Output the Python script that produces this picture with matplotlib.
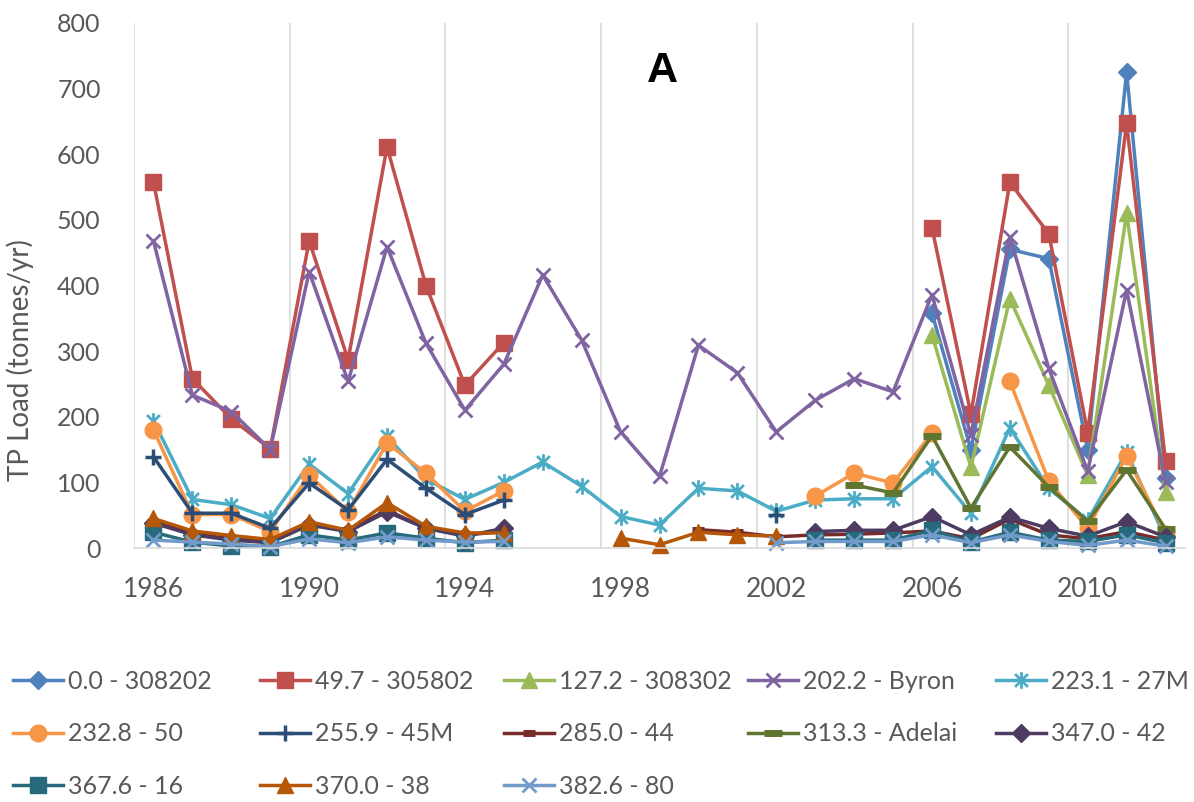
import numpy as np
import matplotlib.pyplot as plt
from matplotlib.path import Path

nan = np.nan
years = np.arange(1986, 2013)

# TP load per site, tonnes/yr, one value per year 1986-2012 (nan = no data)
s_308202 = [nan] * 20 + [358, 150, 455, 441, 150, 725, 107]
s_305802 = [558, 258, 197, 151, 468, 287, 611, 400, 248, 313] + [nan] * 10 + \
           [488, 204, 557, 479, 176, 647, 132]
s_308302 = [nan] * 20 + [325, 123, 380, 248, 111, 510, 85]
s_byron = [468, 233, 208, 150, 421, 254, 459, 312, 210, 280, 416, 317, 177, 109,
           309, 267, 177, 225, 258, 238, 386, 172, 474, 274, 117, 393, 100]
s_27m = [194, 74, 66, 45, 128, 83, 170, 105, 74, 100, 131, 94, 48, 35,
         91, 87, 56, 73, 75, 75, 124, 53, 183, 91, 42, 146, 14]
s_50 = [180, 51, 51, 25, 111, 55, 160, 114, 56, 87] + [nan] * 7 + \
       [79, 114, 99, 175, nan, 254, 102, 30, 140, 22]
s_45m = [139, 53, 53, 30, 99, 58, 135, 91, 51, 73] + [nan] * 6 + [51] + [nan] * 10
s_44 = [40, 22, 14, 10, 37, 27, 58, 30, 20, 25] + [nan] * 4 + \
       [28, 24, 17, 20, 21, 23, 26, 14, 44, 20, 14, 25, 12]
s_adelai = [nan] * 18 + [96, 84, 171, 61, 154, 93, 41, 119, 29]
s_42 = [38, 20, 12, 8, 35, 25, 55, 30, 18, 30] + [nan] * 7 + \
       [25, 27, 27, 48, 20, 47, 30, 18, 40, 17]
s_16 = [24, 9, 3, 2, 20, 12, 23, 15, 8, 12] + [nan] * 7 + \
       [12, 12, 12, 27, 9, 24, 12, 10, 20, 8]
s_38 = [45, 26, 19, 13, 40, 27, 69, 33, 23, 23, nan, nan, 15, 5, 24, 20, 18] + [nan] * 10
s_80 = [12, 9, 6, 2, 14, 8, 17, 12, 9, 10] + [nan] * 6 + \
       [8, 10, 10, 10, 20, 8, 20, 10, 4, 12, 3]

labels = ["0.0 - 308202", "49.7 - 305802", "127.2 - 308302", "202.2 - Byron",
          "223.1 - 27M", "232.8 - 50", "255.9 - 45M", "285.0 - 44",
          "313.3 - Adelai", "347.0 - 42", "367.6 - 16", "370.0 - 38", "382.6 - 80"]
series = [s_308202, s_305802, s_308302, s_byron, s_27m, s_50, s_45m, s_44,
          s_adelai, s_42, s_16, s_38, s_80]

# asterisk marker: an x with a vertical bar through it
star = Path([(-1, -1), (1, 1), (-1, 1), (1, -1), (0, -1.3), (0, 1.3)],
            [Path.MOVETO, Path.LINETO] * 3)

styles = [
    dict(color='#4F81BD', marker='D', ms=9),
    dict(color='#C0504D', marker='s', ms=11),
    dict(color='#9BBB59', marker='^', ms=11),
    dict(color='#8064A2', marker='x', ms=10, mew=2),
    dict(color='#4BACC6', marker=star, ms=12, mew=2, mfc='none'),
    dict(color='#F79646', marker='o', ms=12),
    dict(color='#2C4D75', marker='+', ms=12, mew=2.5),
    dict(color='#772C2A', marker='_', ms=8, mew=5),
    dict(color='#5F7530', marker='_', ms=13, mew=5),
    dict(color='#4D3B62', marker='D', ms=9),
    dict(color='#276A7C', marker='s', ms=11),
    dict(color='#B65708', marker='^', ms=11),
    dict(color='#729ACA', marker='x', ms=10, mew=2),
]

plt.rcParams['font.family'] = ['Lato', 'DejaVu Sans']

fig = plt.figure(figsize=(11.94, 8.02), dpi=100)
ax = fig.add_axes([134 / 1194, 1 - 548 / 802, (1185 - 134) / 1194, 525 / 802])

handles = []
for vals, lab, st in zip(series, labels, styles):
    h, = ax.plot(years, vals, lw=2.5, label=lab, clip_on=False, **st)
    handles.append(h)

ax.set_xlim(1985.5, 2012.5)
ax.set_ylim(0, 800)
ax.set_yticks(np.arange(0, 801, 100))
ax.set_xticks(np.arange(1986, 2012, 4))
ax.set_xticks(np.arange(1985.5, 2012, 4), minor=True)
ax.grid(True, which='minor', axis='x', color='#D9D9D9', lw=1.2)
ax.set_axisbelow(True)
ax.tick_params(which='both', length=0)
ax.tick_params(axis='y', labelsize=18, labelcolor='#595959', pad=24)
ax.tick_params(axis='x', labelsize=19, labelcolor='#595959', pad=21)
for s in ['top', 'right', 'left']:
    ax.spines[s].set_visible(False)
ax.spines['bottom'].set_color('#D9D9D9')
ax.spines['bottom'].set_linewidth(1.2)

fig.text(20 / 1194, 1 - 360 / 802, "TP Load (tonnes/yr)", rotation=90,
         ha='center', va='center', fontsize=20, color='#595959')
ax.text(662 / 1194, 1 - 71 / 802, "A", transform=fig.transFigure,
        ha='center', va='center', fontsize=31, fontweight='bold',
        family='Liberation Sans')

# legend laid out as five columns of up to three rows
col_x = [13, 260, 504, 748, 996]
for c, x in enumerate(col_x):
    idx = list(range(c, len(handles), 5))
    fig.legend([handles[i] for i in idx], [labels[i] for i in idx],
               loc='upper left', bbox_to_anchor=(x / 1194, 1 - 670 / 802),
               frameon=False, fontsize=18, labelcolor='#595959',
               handlelength=2.0, handletextpad=0.2, labelspacing=1.17,
               borderpad=0, borderaxespad=0)

fig.savefig('out.png', dpi=100)
